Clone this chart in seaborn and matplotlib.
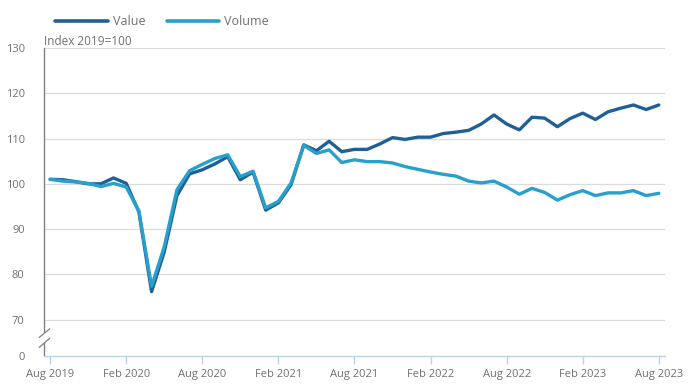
import seaborn as sns
import matplotlib.pyplot as plt
import pandas as pd

# monthly index, Aug 2019 .. Aug 2023
months = pd.date_range("2019-08-01", "2023-08-01", freq="MS")

value = [101.0, 100.9, 100.5, 100.0, 100.0, 101.3, 100.1, 93.8, 76.2, 85.0,
         97.4, 102.2, 103.1, 104.4, 106.0, 100.9, 102.6, 94.2, 95.8, 99.8,
         108.6, 107.3, 109.4, 107.1, 107.6, 107.6, 108.8, 110.2, 109.8, 110.3,
         110.3, 111.1, 111.4, 111.8, 113.2, 115.2, 113.2, 111.9, 114.7, 114.5,
         112.6, 114.4, 115.6, 114.2, 115.9, 116.7, 117.4, 116.4, 117.4]

volume = [101.0, 100.6, 100.4, 100.1, 99.4, 100.1, 99.3, 94.0, 77.4, 86.1,
          98.7, 102.9, 104.3, 105.6, 106.4, 101.6, 102.8, 94.7, 96.1, 100.2,
          108.5, 106.7, 107.5, 104.7, 105.3, 104.9, 104.9, 104.6, 103.8, 103.2,
          102.6, 102.1, 101.7, 100.6, 100.2, 100.6, 99.3, 97.7, 99.0, 98.1,
          96.4, 97.6, 98.5, 97.4, 98.0, 98.0, 98.5, 97.4, 97.9]

tick_pos = [0, 6, 12, 18, 24, 30, 36, 42, 48]
tick_labels = ["Aug 2019", "Feb 2020", "Aug 2020", "Feb 2021", "Aug 2021",
               "Feb 2022", "Aug 2022", "Feb 2023", "Aug 2023"]
y_ticks = [70, 80, 90, 100, 110, 120, 130]

df = pd.DataFrame({"month": list(range(len(months))) * 2,
                   "index": value + volume,
                   "series": ["Value"] * len(value) + ["Volume"] * len(volume)})

sns.set_style("white")
plt.rcParams['font.family'] = ['Open Sans', 'DejaVu Sans']

fig = plt.figure(figsize=(6.9, 3.91), dpi=100)
ax = fig.add_axes([0.064, 0.0895, 0.9, 0.788])

sns.lineplot(data=df, x="month", y="index", hue="series",
             palette={"Value": "#206095", "Volume": "#27a0cc"},
             linewidth=2.4, ax=ax, legend=False)

# broken y-axis: 0 sits just below 70
bottom = 62
ax.set_ylim(bottom, 130)
ax.set_xlim(-0.47, 48.5)
ax.set_yticks([bottom] + y_ticks)
ax.set_yticklabels(["0"] + [str(t) for t in y_ticks])
for t in y_ticks:
    ax.axhline(t, color="#dcdcdc", lw=0.9, zorder=0)

ax.set_xticks(tick_pos)
ax.set_xticklabels(tick_labels)
ax.set_xlabel("")
ax.set_ylabel("")

for s in ["top", "right", "left"]:
    ax.spines[s].set_visible(False)
ax.spines["bottom"].set_color("#bfd0e6")
ax.spines["bottom"].set_linewidth(1)
ax.tick_params(axis="x", colors="#bfd0e6", length=6, width=1, labelcolor="#707070",
               labelsize=8, pad=3, direction="out", bottom=True)
ax.tick_params(axis="y", length=0, labelcolor="#707070", labelsize=8, pad=14)

# left axis with break marks
trans = ax.get_yaxis_transform()
ax.plot([0, 0], [67.2, 130], transform=trans, color="#808080", lw=1, clip_on=False)
ax.plot([0, 0], [bottom, 64.9], transform=trans, color="#808080", lw=1, clip_on=False)
ax.plot([-0.008, 0.009], [66.1, 68.0], transform=trans, color="#808080", lw=0.9, clip_on=False)
ax.plot([-0.008, 0.009], [63.9, 65.9], transform=trans, color="#808080", lw=0.9, clip_on=False)

ax.text(0.0, 1.0, "Index 2019=100", transform=ax.transAxes, fontsize=8.5,
        color="#707070", ha="left", va="bottom")

handles = [plt.Line2D([], [], color="#206095", lw=2.6),
           plt.Line2D([], [], color="#27a0cc", lw=2.6)]
fig.legend(handles, ["Value", "Volume"], loc="upper left", bbox_to_anchor=(0.064, 0.99),
           ncol=2, frameon=False, fontsize=9, handlelength=4.2, columnspacing=1.7,
           labelcolor="#707070", handletextpad=0.4)

plt.savefig("out.png", dpi=100)
